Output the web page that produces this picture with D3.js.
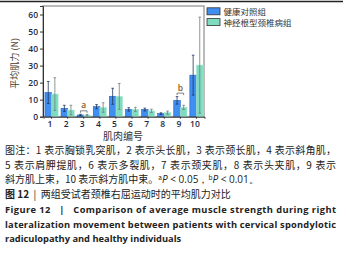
<!DOCTYPE html>
<html>
<head>
<meta charset="utf-8">
<script src="https://cdn.jsdelivr.net/npm/d3@7"></script>
<style>
  body { margin: 0; background: #fff; }
  svg { display: block; }
</style>
</head>
<body>
<svg width="346" height="256"></svg>
<script>
var WIDTH = 346;
var HEIGHT = 256;

var muscles = ['1', '2', '3', '4', '5', '6', '7', '8', '9', '10'];
var seriesNames = ['健康对照组', '神经根型颈椎病组'];
var healthy = [14.2, 4.9, 1.0, 5.9, 12.0, 4.3, 4.2, 1.8, 9.6, 24.4];
var healthySd = [6.5, 1.8, 0.4, 1.2, 4.7, 1.0, 0.8, 0.5, 2.2, 11.7];
var patients = [13.3, 3.9, 0.9, 5.4, 11.9, 4.3, 3.4, 2.4, 5.5, 30.3];
var patientsSd = [9.6, 2.8, 0.4, 2.8, 7.6, 1.2, 1.0, 0.9, 1.2, 28.2];
var yTicks = [0, 10, 20, 30, 40, 50, 60];
var marks = [{muscle: '3', label: 'a'}, {muscle: '9', label: 'b'}];

var BLUE = '#3f8ef0';
var GREEN = '#7fdcc0';
var CJK = '"Noto Sans CJK SC", "Noto Sans", sans-serif';
var NB = '\u00a0';

var svg = d3.select('svg');
svg.append('rect').attr('width', WIDTH).attr('height', HEIGHT).attr('fill', '#fff');

// page rule at top
svg.append('line')
    .attr('x1', 0).attr('x2', 343).attr('y1', 1.5).attr('y2', 1.5)
    .attr('stroke', '#222').attr('stroke-width', 1.5);

var plot = {left: 43, right: 204, top: 6, bottom: 116.7};

var xScale = d3.scaleBand()
    .domain(muscles)
    .range([plot.left + 0.5, plot.right + 0.5])
    .paddingInner(0.18)
    .paddingOuter(0.09);
var sub = d3.scaleBand()
    .domain([0, 1])
    .range([0, xScale.bandwidth()]);
var yScale = d3.scaleLinear().domain([0, 65]).range([plot.bottom, plot.top]);

// plot frame
svg.append('rect')
    .attr('x', plot.left).attr('y', plot.top)
    .attr('width', plot.right - plot.left).attr('height', plot.bottom - plot.top)
    .attr('fill', 'none').attr('stroke', '#aaa').attr('stroke-width', 1.6);

var groups = muscles.map(function(m, i) {
    return [
        {m: m, s: 0, v: healthy[i], sd: healthySd[i]},
        {m: m, s: 1, v: patients[i], sd: patientsSd[i]}
    ];
});

var g = svg.append('g');
var g2 = g.selectAll('g.grp').data(groups).enter().append('g')
    .attr('transform', function(d) { return 'translate(' + xScale(d[0].m) + ',0)'; });

g2.selectAll('rect').data(function(d) { return d; }).enter().append('rect')
    .attr('x', function(d) { return sub(d.s); })
    .attr('y', function(d) { return yScale(d.v); })
    .attr('width', sub.bandwidth())
    .attr('height', function(d) { return yScale(0) - yScale(d.v); })
    .attr('fill', function(d) { return d.s === 0 ? BLUE : GREEN; })
    .attr('stroke', function(d) { return d.s === 0 ? '#2a62b8' : '#a8e8d4'; })
    .attr('stroke-width', 0.6);

var err = g2.selectAll('g.err').data(function(d) { return d; }).enter().append('g')
    .attr('stroke', function(d) { return d.s === 0 ? '#1d3560' : '#6f7f7a'; })
    .attr('stroke-width', 0.8);
err.append('line')
    .attr('x1', function(d) { return sub(d.s) + sub.bandwidth() / 2; })
    .attr('x2', function(d) { return sub(d.s) + sub.bandwidth() / 2; })
    .attr('y1', function(d) { return yScale(Math.max(0, d.v - d.sd)); })
    .attr('y2', function(d) { return yScale(d.v + d.sd); });
err.append('line')
    .attr('x1', function(d) { return sub(d.s) + sub.bandwidth() / 2 - 1.3; })
    .attr('x2', function(d) { return sub(d.s) + sub.bandwidth() / 2 + 1.3; })
    .attr('y1', function(d) { return yScale(d.v + d.sd); })
    .attr('y2', function(d) { return yScale(d.v + d.sd); });
err.append('line')
    .attr('x1', function(d) { return sub(d.s) + sub.bandwidth() / 2 - 1.3; })
    .attr('x2', function(d) { return sub(d.s) + sub.bandwidth() / 2 + 1.3; })
    .attr('y1', function(d) { return yScale(Math.max(0, d.v - d.sd)); })
    .attr('y2', function(d) { return yScale(Math.max(0, d.v - d.sd)); });

// significance brackets
marks.forEach(function(mk) {
    var i = muscles.indexOf(mk.muscle);
    var top = Math.max(healthy[i] + healthySd[i], patients[i] + patientsSd[i]);
    var yb = yScale(top) - 3.5;
    var x0 = xScale(mk.muscle) + sub.bandwidth() / 2;
    var x1 = xScale(mk.muscle) + sub.bandwidth() * 1.5;
    svg.append('path')
        .attr('d', 'M' + x0 + ',' + (yb + 2) + 'V' + yb + 'H' + x1 + 'V' + (yb + 2))
        .attr('fill', 'none').attr('stroke', '#666').attr('stroke-width', 0.8);
    svg.append('text')
        .attr('x', (x0 + x1) / 2).attr('y', yb - 2.5)
        .attr('text-anchor', 'middle')
        .attr('font-family', 'Open Sans, sans-serif').attr('font-size', 8.5)
        .attr('font-weight', 600)
        .attr('fill', '#8a5a20')
        .text(mk.label);
});

// axes
var leftAxis = d3.axisLeft(yScale).tickValues(yTicks).tickSize(3).tickPadding(2);
var ax = svg.append('g').attr('id', 'left-axis')
    .attr('transform', 'translate(' + plot.left + ',0)')
    .call(leftAxis);
var bottomAxis = d3.axisBottom(xScale).tickSize(2).tickPadding(2);
var bx = svg.append('g').attr('id', 'bottom-axis')
    .attr('transform', 'translate(0,' + plot.bottom + ')')
    .call(bottomAxis);
[ax, bx].forEach(function(a) {
    a.select('.domain').attr('stroke', '#333').attr('stroke-width', 1);
    a.selectAll('.tick line').attr('stroke', '#333');
    a.selectAll('.tick text')
        .attr('font-family', 'Open Sans, sans-serif')
        .attr('font-size', 8.5).attr('font-weight', 600)
        .attr('fill', '#1c2a48');
});
bx.selectAll('.tick text').attr('dx', -1.5);

svg.append('text')
    .attr('transform', 'translate(18,' + ((plot.top + plot.bottom) / 2 + 2) + ') rotate(-90)')
    .attr('text-anchor', 'middle')
    .attr('font-family', CJK).attr('font-size', 9)
    .attr('fill', '#4a3a2a')
    .text('平均肌力 (N)');

svg.append('text')
    .attr('x', 123).attr('y', 139.5)
    .attr('text-anchor', 'middle')
    .attr('font-family', CJK).attr('font-size', 10)
    .attr('fill', '#333')
    .text('肌肉编号');

// legend
var legend = svg.append('g').attr('transform', 'translate(207,7)');
seriesNames.forEach(function(name, i) {
    legend.append('rect')
        .attr('x', 0).attr('y', i * 10.8 + 0.8)
        .attr('width', 13).attr('height', 7)
        .attr('fill', i === 0 ? BLUE : GREEN)
        .attr('stroke', '#333').attr('stroke-width', 0.8);
    legend.append('text')
        .attr('x', 16.5).attr('y', i * 10.8 + 7.8)
        .attr('font-family', CJK).attr('font-size', 8.5)
        .attr('fill', '#333')
        .text(name);
});

// caption
var cap = svg.append('g').attr('font-family', CJK).attr('fill', '#222');
function capLine(y, opts) {
    var t = cap.append('text').attr('x', 5).attr('y', y)
        .attr('font-size', opts.size || 10);
    if (opts.width) t.attr('textLength', opts.width).attr('lengthAdjust', 'spacing');
    if (opts.family) t.attr('font-family', opts.family);
    if (opts.weight) t.attr('font-weight', opts.weight);
    return t;
}
capLine(154, {width: 331}).text('图注：1 表示胸锁乳突肌，2 表示头长肌，3 表示颈长肌，4 表示斜角肌，');
capLine(168.5, {width: 331}).text('5 表示肩胛提肌，6 表示多裂肌，7 表示颈夹肌，8 表示头夹肌，9 表示');
var l3 = capLine(183, {});
l3.append('tspan').text('斜方肌上束，10 表示斜方肌中束。');
l3.append('tspan').attr('dy', -3.5).attr('font-size', 6.5).text('a');
l3.append('tspan').attr('dy', 3.5).attr('font-style', 'italic').attr('font-family', 'Open Sans, sans-serif').text('P');
l3.append('tspan').attr('font-family', 'Open Sans, sans-serif').text(' < 0.05，');
l3.append('tspan').attr('dy', -3.5).attr('font-size', 6.5).text('b');
l3.append('tspan').attr('dy', 3.5).attr('font-style', 'italic').attr('font-family', 'Open Sans, sans-serif').text('P');
l3.append('tspan').attr('font-family', 'Open Sans, sans-serif').text(' < 0.01。');

var l4 = capLine(197.5, {});
l4.append('tspan').attr('font-weight', 'bold').text('图 12');
l4.append('tspan').text(NB + NB + '|' + NB + NB + '两组受试者颈椎右屈运动时的平均肌力对比');

var EN = '"Open Sans", "DejaVu Sans", sans-serif';
capLine(213, {width: 331, family: EN, weight: 'bold', size: 9.3})
    .text('Figure 12' + NB + NB + ' | ' + NB + NB + 'Comparison of average muscle strength during right');
capLine(227.5, {width: 331, family: EN, weight: 'bold', size: 9.3})
    .text('lateralization movement between patients with cervical spondylotic');
capLine(242, {family: EN, weight: 'bold', size: 9.3})
    .text('radiculopathy and healthy individuals');
</script>
</body>
</html>
